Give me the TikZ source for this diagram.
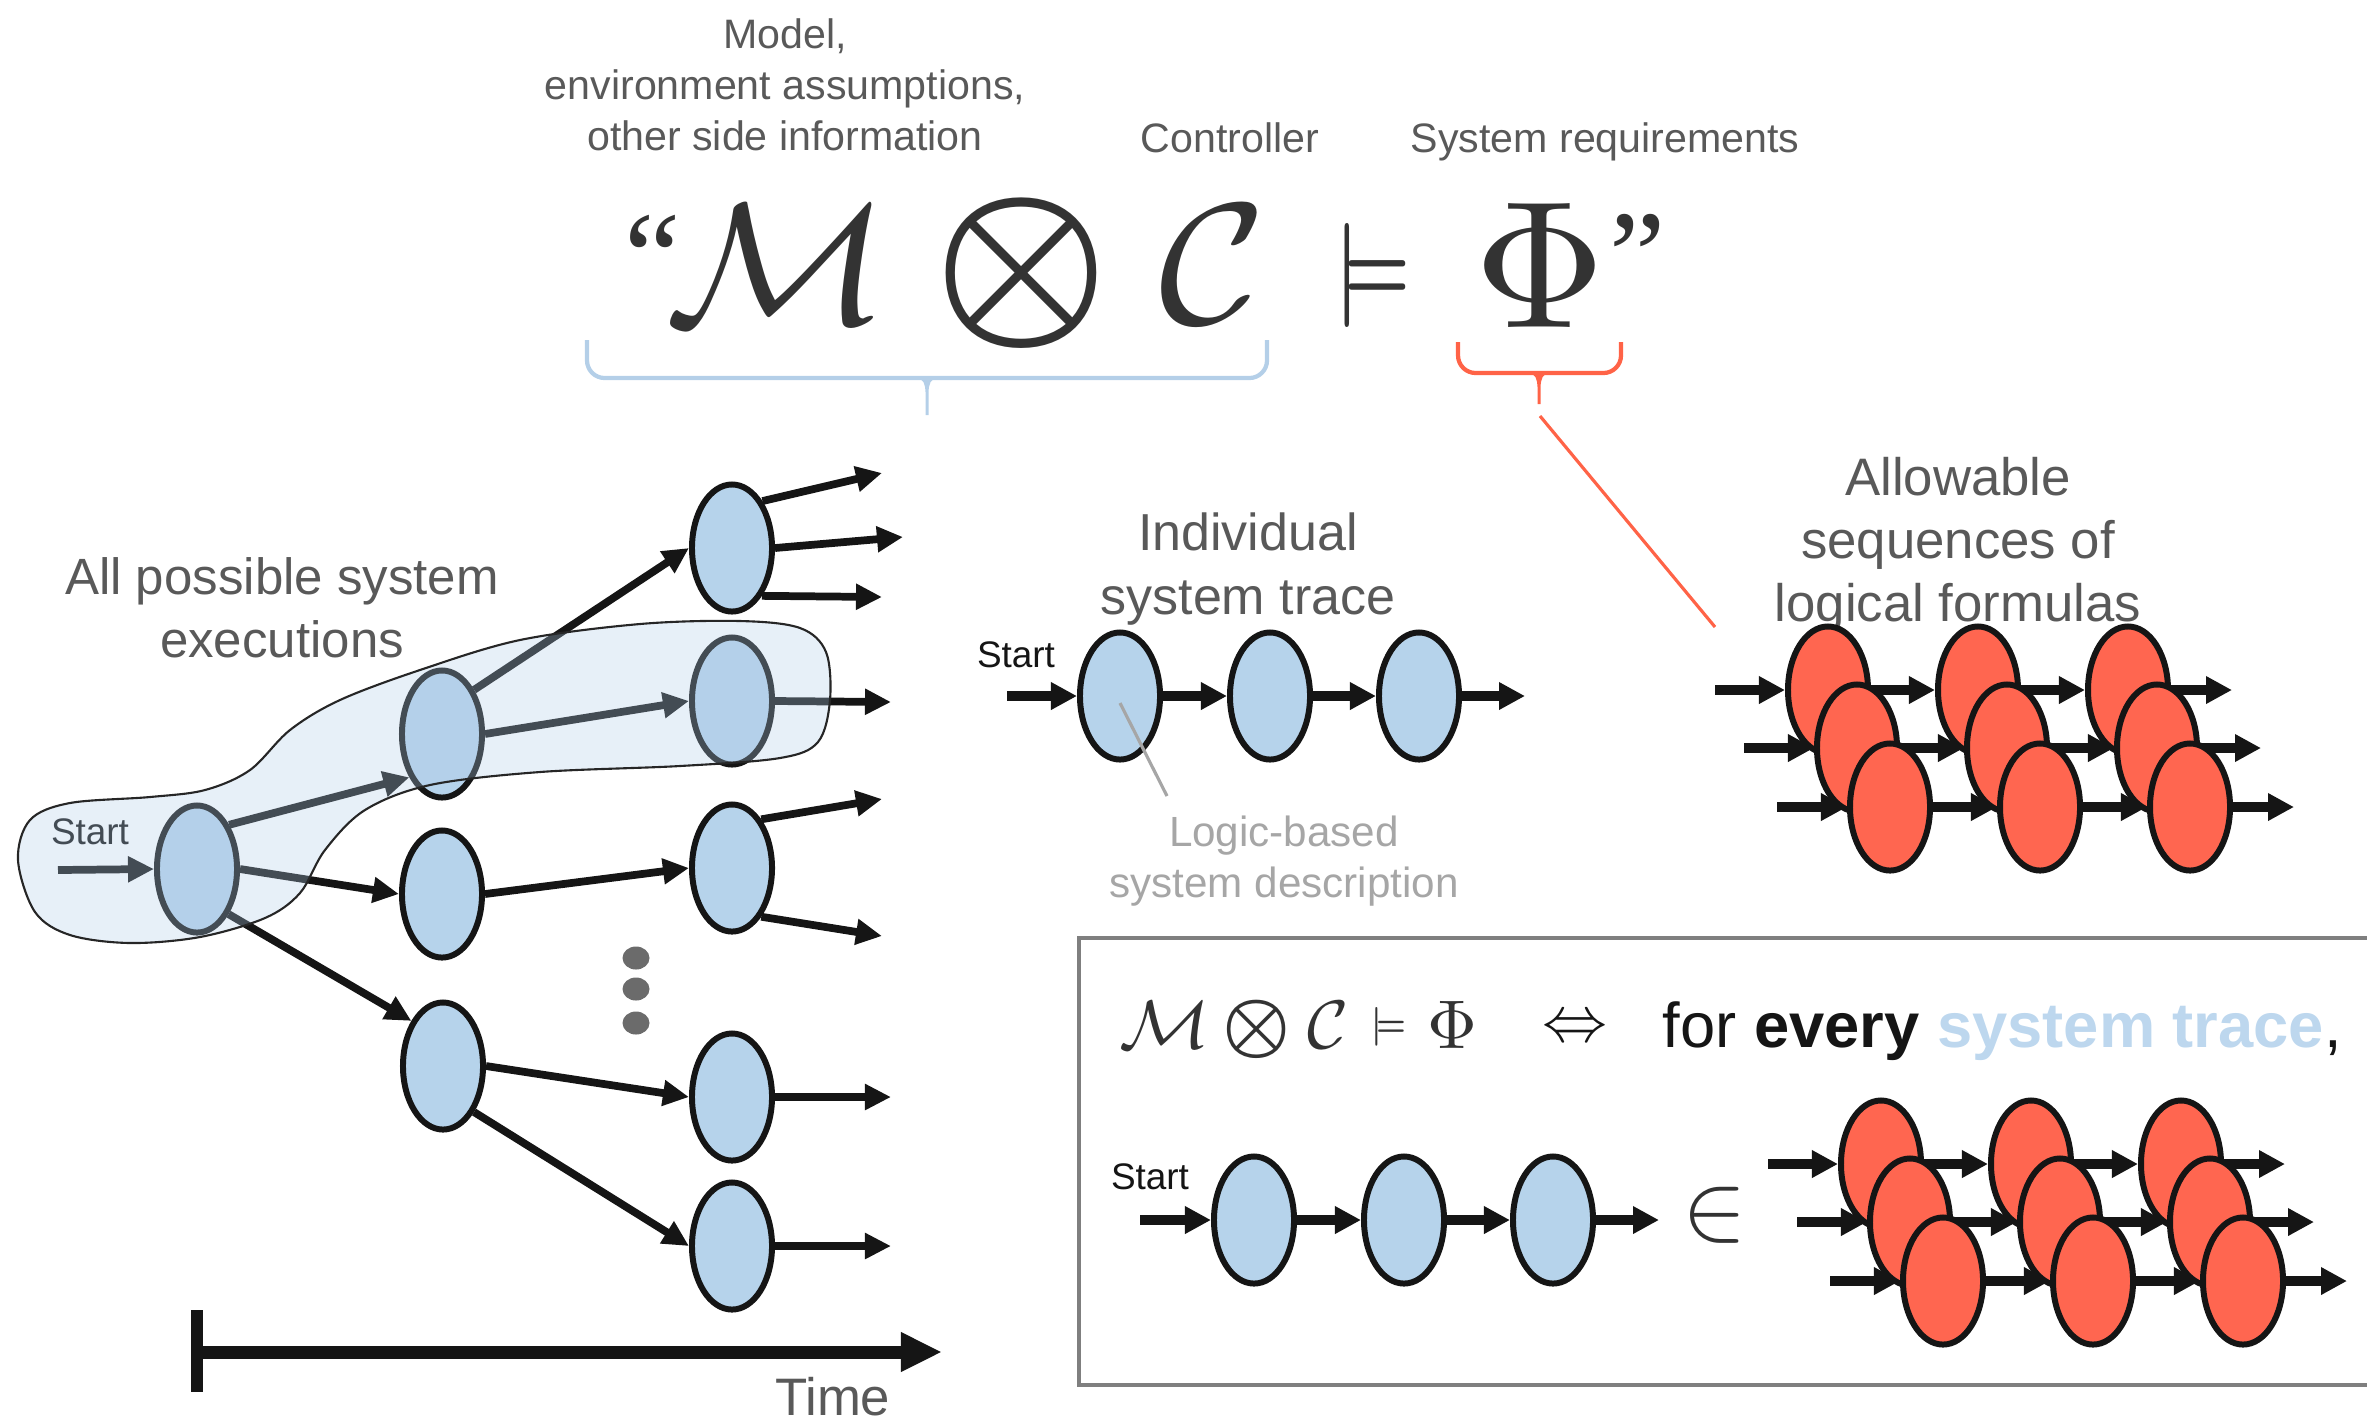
\documentclass[tikz,border=0pt]{standalone}
\usepackage{amsmath}
\usepackage[no-math]{fontspec}
\setmainfont{Liberation Sans}
\newfontfamily\quotefont{Liberation Serif}
\usepackage{graphicx}
\usetikzlibrary{arrows.meta,shapes.geometric}
\definecolor{nodeblue}{HTML}{B6D3EB}
\definecolor{nodered}{HTML}{FF6650}
\definecolor{outl}{HTML}{151515}
\definecolor{txtgray}{HTML}{595959}
\definecolor{lightgraytxt}{HTML}{A6A6A6}
\definecolor{formula}{HTML}{333333}
\definecolor{braceblue}{HTML}{B4CFE8}
\definecolor{tomatoline}{HTML}{FF6347}
\definecolor{blobfill}{HTML}{B0CCE8}
\definecolor{boxgray}{HTML}{7F7F7F}
\definecolor{dotgray}{HTML}{6B6B6B}
\definecolor{tracetext}{HTML}{BDD7EE}
\tikzset{
  ell/.style={ellipse, draw=outl, line width=1.7pt, minimum width=0.8cm, minimum height=1.27cm, inner sep=0pt},
  bnode/.style={ell, fill=nodeblue},
  rnode/.style={ell, fill=nodered},
  arr/.style={-{Triangle[length=7.4pt,width=7pt]}, line width=2.2pt, draw=outl},
  arrT/.style={-{Triangle[length=7.4pt,width=7.4pt]}, line width=2.7pt, draw=outl},
  lbl/.style={text=txtgray, align=center, inner sep=0pt},
  startlbl/.style={font=\fontsize{10.5}{12}\selectfont, inner sep=0pt, text=outl},
  fsym/.style={text=formula, inner sep=0pt},
  dotnode/.style={ellipse, fill=dotgray, minimum width=0.27cm, minimum height=0.23cm, inner sep=0pt},
}
\begin{document}
\begin{tikzpicture}[x=0.01cm, y=-0.01cm]
\useasboundingbox (0,0) rectangle (2367,1417);

% ---------- top labels ----------
\node[lbl, font=\fontsize{11.7}{14.5}\selectfont, anchor=north] (modeltxt) at (785,18) {Model,\\environment assumptions,\\other side information};
\node[lbl, font=\fontsize{11.7}{14.5}\selectfont, anchor=base] (ctrl) at (1230,152) {Controller};
\node[lbl, font=\fontsize{11.7}{14.5}\selectfont, anchor=base west] (sysreq) at (1410,152) {System requirements};

% ---------- big formula ----------
\node[fsym, anchor=north, font=\fontsize{36}{36}\quotefont] (q1) at (653,214) {“};
\node[fsym] (bigM) at (777,265) {\scalebox{5.3}[4.9]{$\mathcal{M}$}};
\node[fsym] (bigO) at (1022,273) {\scalebox{5.6}{$\boldsymbol{\otimes}$}};
\node[fsym] (bigC) at (1213,265) {\scalebox{5.2}[4.9]{$\mathcal{C}$}};
\node[fsym] (bigE) at (1373,275) {\scalebox{2.1}[2.96]{$\boldsymbol{\models}$}};
\node[fsym] (bigP) at (1540,265) {\scalebox{5.16}{$\Phi$}};
\node[fsym, anchor=north, font=\fontsize{36}{36}\quotefont] (q2) at (1638,214) {”};

% ---------- braces ----------
\draw[braceblue, line width=1.2pt, rounded corners=5pt] (587,340) -- (587,378) -- (1267,378) -- (1267,340);
\fill[braceblue] (915,378) .. controls (924,378) and (925,384) .. (925.5,392) -- (925.5,415) -- (928.5,415) -- (928.5,392) .. controls (929,384) and (930,378) .. (939,378) -- cycle;
\draw[tomatoline, line width=1.2pt, rounded corners=5pt] (1458,342) -- (1458,373) -- (1621,373) -- (1621,342);
\fill[tomatoline] (1527,373) .. controls (1536,373) and (1537,379) .. (1537.5,387) -- (1537.5,404) -- (1540.5,404) -- (1540.5,387) .. controls (1541,379) and (1542,373) .. (1551,373) -- cycle;
\coordinate (rb) at (1540,416);
\coordinate (rc) at (1715,627);
\draw[tomatoline, line width=0.9pt] (rb) -- (rc);

% ---------- tree ----------
\node[lbl, font=\fontsize{14.5}{17.8}\selectfont, anchor=north] (allposs) at (282,557) {All possible system\\executions};
\node[bnode] (root) at (197,869) {};
\node[bnode] (n2a) at (442,734) {};
\node[bnode] (n2b) at (442,894) {};
\node[bnode] (n2c) at (443,1066) {};
\node[bnode] (n3a) at (732,548) {};
\node[bnode] (n3b) at (732,701) {};
\node[bnode] (n3c) at (732,868) {};
\node[bnode] (n3d) at (732,1097) {};
\node[bnode] (n3e) at (732,1246) {};
\node[startlbl] (st0) at (90,832) {Start};
\coordinate (s0) at (58,870);
\coordinate (o1) at (882,473);
\coordinate (o2) at (903,537);
\coordinate (o3) at (882,597);
\coordinate (o4) at (891,702);
\coordinate (o5) at (882,799);
\coordinate (o6) at (882,936);
\coordinate (o7) at (891,1097);
\coordinate (o8) at (891,1246);
\draw[arr] (s0) -- (root.west);
\draw[arr] (root.54) -- (n2a.233);
\draw[arr] (root.east) -- (n2b.west);
\draw[arr] (root.-55) -- (n2c.125);
\draw[arr] (n2a.54) -- (n3a.west);
\draw[arr] (n2a.east) -- (n3b.west);
\draw[arr] (n2b.east) -- (n3c.west);
\draw[arr] (n2c.east) -- (n3d.west);
\draw[arr] (n2c.-56) -- (n3e.west);
\draw[arr] (n3a.57) -- (o1);
\draw[arr] (n3a.east) -- (o2);
\draw[arr] (n3a.-58) -- (o3);
\draw[arr] (n3b.east) -- (o4);
\draw[arr] (n3c.59) -- (o5);
\draw[arr] (n3c.-59) -- (o6);
\draw[arr] (n3d.east) -- (o7);
\draw[arr] (n3e.east) -- (o8);
\path[draw=black!85, line width=0.6pt, fill=blobfill, fill opacity=0.3]
  plot[smooth cycle, tension=0.55] coordinates {
  (18,860) (30,820) (70,803) (150,797) (205,790) (250,770) (290,730) (340,700)
  (420,670) (520,640) (640,624) (740,621) (800,628) (826,652) (830,700) (818,742)
  (780,758) (680,766) (540,772) (430,785) (365,810) (325,850) (300,893) (265,918)
  (200,937) (130,943) (70,935) (35,912)};
\node[dotnode] (d1) at (636,958) {};
\node[dotnode] (d2) at (636,989) {};
\node[dotnode] (d3) at (636,1023) {};

% ---------- time axis ----------
\coordinate (tm0) at (197,1352);
\coordinate (tm1) at (942,1352);
\coordinate (tb0) at (197,1310);
\coordinate (tb1) at (197,1392);
\draw[outl, line width=3.4pt] (tb0) -- (tb1);
\draw[outl, line width=3.7pt, -{Triangle[length=11.7pt,width=10.5pt]}] (tm0) -- (tm1);
\node[lbl, font=\fontsize{15}{18}\selectfont, anchor=base east] (time) at (891,1415) {Time};

% ---------- individual trace ----------
\node[lbl, font=\fontsize{14.8}{18.2}\selectfont, anchor=north] (indiv) at (1248,512) {Individual\\system trace};
\node[startlbl] (st1) at (1016,655) {Start};
\node[bnode] (t1) at (1120,696) {};
\node[bnode] (t2) at (1270,696) {};
\node[bnode] (t3) at (1419,696) {};
\coordinate (ts) at (1007,696);
\coordinate (te) at (1525,696);
\draw[arrT] (ts) -- (t1.west);
\draw[arrT] (t1.east) -- (t2.west);
\draw[arrT] (t2.east) -- (t3.west);
\draw[arrT] (t3.east) -- (te);
\coordinate (lg1) at (1120,703);
\coordinate (lg2) at (1167,796);
\draw[lightgraytxt, line width=0.9pt] (lg1) -- (lg2);
\node[lbl, text=lightgraytxt, font=\fontsize{12}{14.6}\selectfont, anchor=north] (logic) at (1284,815) {Logic-based\\system description};

% ---------- allowable sequences ----------
\node[lbl, font=\fontsize{15}{17.8}\selectfont, anchor=north] (allow) at (1958,457) {Allowable\\sequences of\\logical formulas};

\foreach \cl/\ox/\oy in {A/1828/690, B/1881/1164} {
  \foreach \r/\dx/\dy in {1/0/0, 2/29/58, 3/62/117} {
    \foreach \c in {1,2,3} {
      \node[rnode] (\cl-\r-\c) at ({\ox+\dx+150*(\c-1)},{\oy+\dy}) {};
    }
    \coordinate (\cl-\r-s) at ({\ox+\dx-113},{\oy+\dy});
    \coordinate (\cl-\r-e) at ({\ox+\dx+404},{\oy+\dy});
    \draw[arrT] (\cl-\r-s) -- (\cl-\r-1.west);
    \draw[arrT] (\cl-\r-1.east) -- (\cl-\r-2.west);
    \draw[arrT] (\cl-\r-2.east) -- (\cl-\r-3.west);
    \draw[arrT] (\cl-\r-3.east) -- (\cl-\r-e);
  }
}

% ---------- bottom box ----------
\draw[boxgray, line width=1.1pt] (1079,938) rectangle (2420,1385);
\node[fsym] (sM) at (1165,1025) {\scalebox{2.15}[1.95]{$\mathcal{M}$}};
\node[fsym] (sO) at (1257,1029) {\scalebox{2.17}{$\boldsymbol{\otimes}$}};
\node[fsym] (sC) at (1328,1025) {\scalebox{2.0}[1.95]{$\mathcal{C}$}};
\node[fsym] (sE) at (1389,1027) {\scalebox{0.95}[1.1]{$\boldsymbol{\models}$}};
\node[fsym] (sP) at (1452,1025) {\scalebox{1.96}{$\Phi$}};
\node[inner sep=0pt, text=outl] (iff) at (1575,1030) {\scalebox{1.85}{$\Leftrightarrow$}};
\node[anchor=base west, inner sep=0pt, text=outl, font=\fontsize{18}{20}\selectfont] (forevery) at (1662,1047) {for \textbf{every} \textcolor{tracetext}{\textbf{system trace}},};
\node[startlbl] (st2) at (1150,1177) {Start};
\node[bnode] (b1) at (1254,1220) {};
\node[bnode] (b2) at (1404,1220) {};
\node[bnode] (b3) at (1553,1220) {};
\coordinate (bs) at (1140,1220);
\coordinate (be) at (1659,1220);
\draw[arrT] (bs) -- (b1.west);
\draw[arrT] (b1.east) -- (b2.west);
\draw[arrT] (b2.east) -- (b3.west);
\draw[arrT] (b3.east) -- (be);
\node[fsym] (elem) at (1715,1215) {\scalebox{2.75}{$\in$}};
\end{tikzpicture}
\end{document}
